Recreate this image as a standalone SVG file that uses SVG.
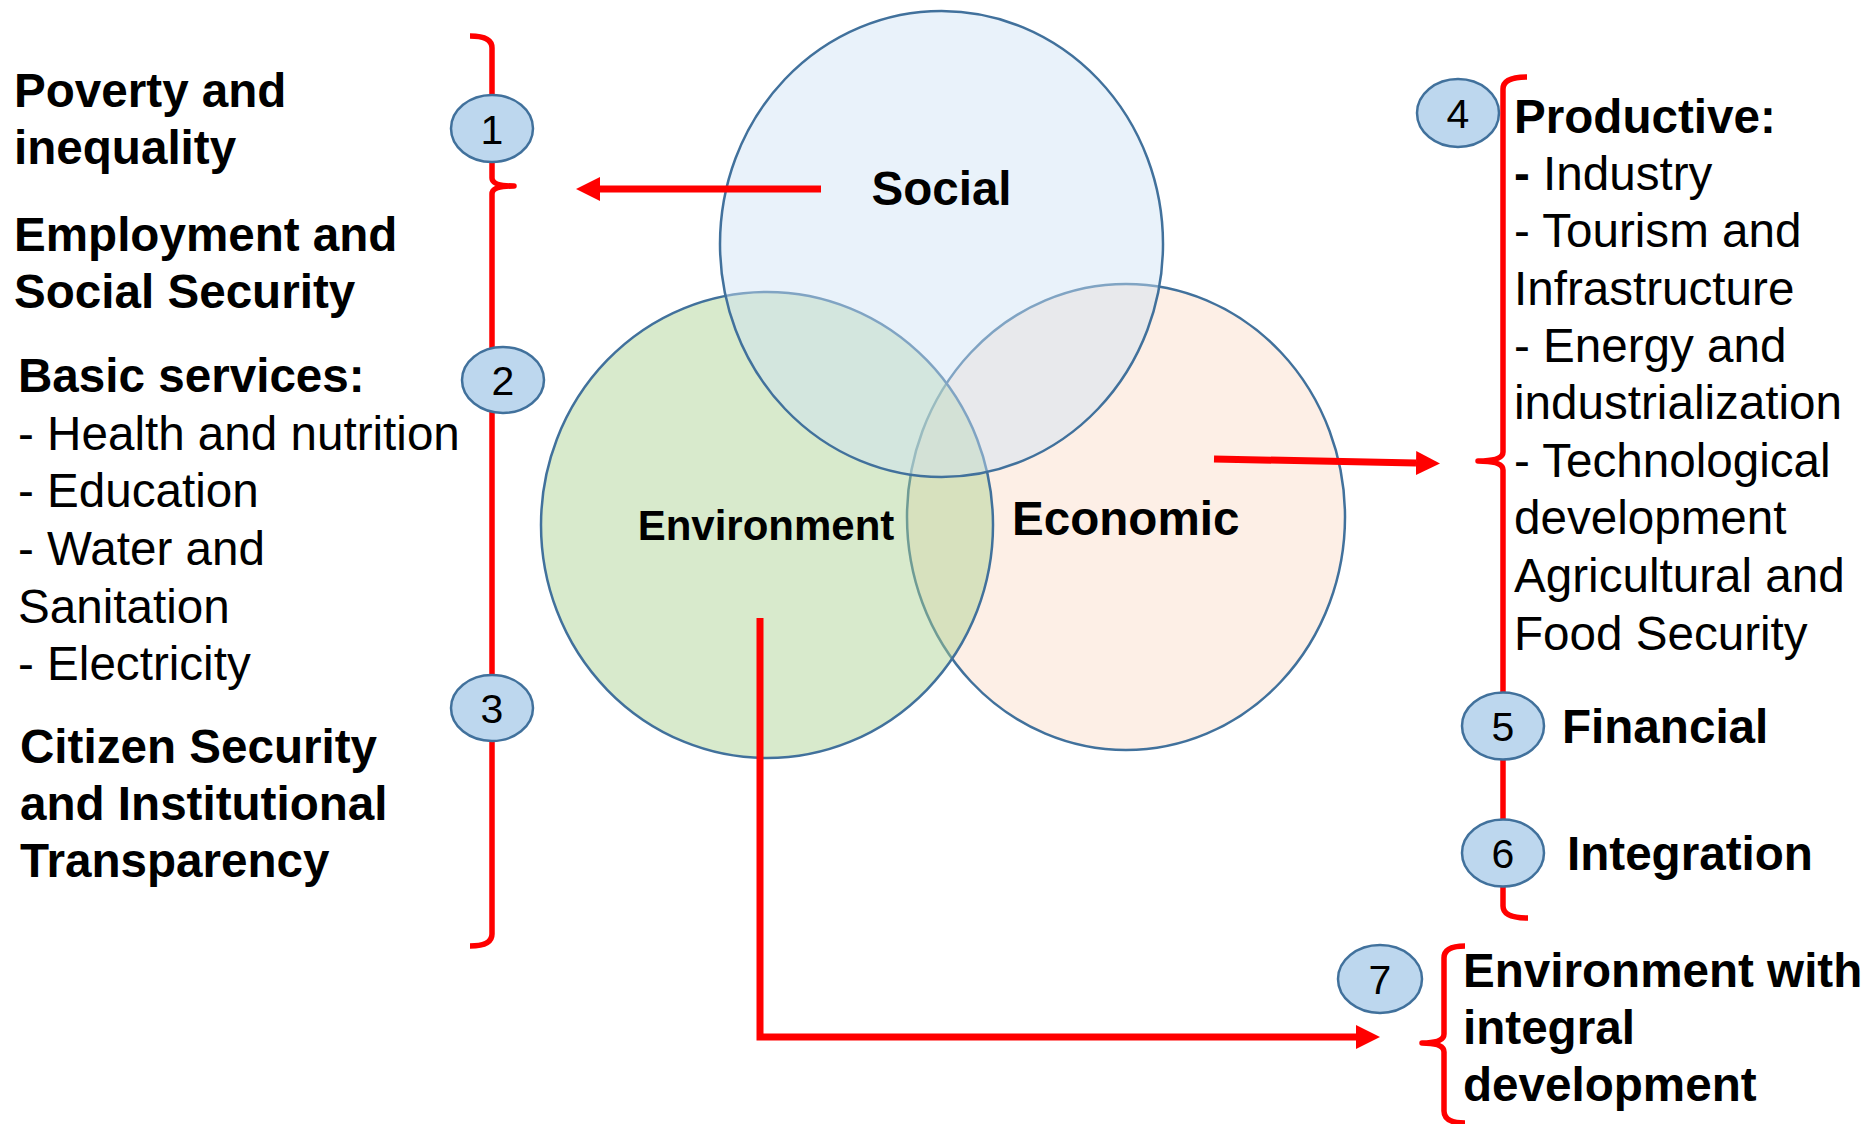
<svg xmlns="http://www.w3.org/2000/svg" width="1874" height="1124" viewBox="0 0 1874 1124">
<style>
.t{font-family:"Liberation Sans",Arial,sans-serif;font-size:47.6px;fill:#000}
.b{font-weight:bold}
.num{font-family:"Liberation Sans",Arial,sans-serif;font-size:41px;fill:#000;text-anchor:middle}
.badge{fill:#BDD7EE;stroke:#41719C;stroke-width:2.5}
.venn{stroke:#41719C;stroke-width:2.5}
.red{fill:none;stroke:#FF0000;stroke-width:7}
.brace{fill:none;stroke:#FF0000;stroke-width:5.5;stroke-linejoin:round}
</style>
<defs>
<marker id="ah" markerUnits="userSpaceOnUse" markerWidth="24" markerHeight="24" refX="0" refY="12" orient="auto" viewBox="0 0 24 24">
<path d="M0,0 L24,12 L0,24 z" fill="#FF0000"/>
</marker>
</defs>
<rect width="1874" height="1124" fill="#FFFFFF"/>
<g id="venn">
<ellipse id="economic-circle" class="venn" cx="1126" cy="517" rx="219" ry="233" fill="#F8CBAD" fill-opacity="0.3"/>
<ellipse id="environment-circle" class="venn" cx="767" cy="525" rx="226" ry="233" fill="#A9D18E" fill-opacity="0.45"/>
<ellipse id="social-circle" class="venn" cx="941.5" cy="244" rx="221.5" ry="233" fill="#CEE2F4" fill-opacity="0.45"/>
<text class="t b" x="941.5" y="205" text-anchor="middle">Social</text>
<text class="t b" x="766" y="540" text-anchor="middle" style="font-size:42px">Environment</text>
<text class="t b" x="1012" y="535">Economic</text>
</g>
<g id="connectors">
<path class="red" d="M821,189 L600,189" marker-end="url(#ah)"/>
<path class="red" d="M1214,459 L1416,463" marker-end="url(#ah)"/>
<path class="red" d="M760,618 L760,1037 L1356,1037" marker-end="url(#ah)"/>
<path class="brace" d="M470,36 Q492,36 492,48 L492,178 Q492,186 514,186 Q492,186 492,194 L492,934 Q492,946 470,946"/>
<path class="brace" d="M1527,77 Q1503,77 1503,89 L1503,452 Q1503,461 1478,461 Q1503,461 1503,470 L1503,906 Q1503,918 1528,918"/>
<path class="brace" d="M1465,946 Q1444,946 1444,958 L1444,1034 Q1444,1043 1422,1043 Q1444,1043 1444,1052 L1444,1111 Q1444,1123 1465,1123"/>
</g>
<g id="node-1">
<ellipse class="badge" cx="492" cy="128.5" rx="41" ry="33.5"/>
<text class="num" x="492" y="144">1</text>
</g>
<g id="node-2">
<ellipse class="badge" cx="503" cy="380" rx="41" ry="33"/>
<text class="num" x="503" y="395">2</text>
</g>
<g id="node-3">
<ellipse class="badge" cx="492" cy="708" rx="41" ry="33"/>
<text class="num" x="492" y="723">3</text>
</g>
<g id="node-4">
<ellipse class="badge" cx="1458" cy="113" rx="41" ry="34"/>
<text class="num" x="1458" y="128">4</text>
</g>
<g id="node-5">
<ellipse class="badge" cx="1503" cy="726" rx="41" ry="33.5"/>
<text class="num" x="1503" y="741">5</text>
</g>
<g id="node-6">
<ellipse class="badge" cx="1503" cy="853" rx="41" ry="33.5"/>
<text class="num" x="1503" y="868">6</text>
</g>
<g id="node-7">
<ellipse class="badge" cx="1380" cy="979" rx="42" ry="34"/>
<text class="num" x="1380" y="994">7</text>
</g>
<g id="left-texts">
<text class="t b" x="14" y="107">Poverty and</text>
<text class="t b" x="14" y="164">inequality</text>
<text class="t b" x="14" y="251">Employment and</text>
<text class="t b" x="14" y="308">Social Security</text>
<text class="t b" x="18" y="392">Basic services:</text>
<text class="t" x="18" y="450">- Health and nutrition</text>
<text class="t" x="18" y="507">- Education</text>
<text class="t" x="18" y="565">- Water and</text>
<text class="t" x="18" y="623">Sanitation</text>
<text class="t" x="18" y="680">- Electricity</text>
<text class="t b" x="20" y="763">Citizen Security</text>
<text class="t b" x="20" y="820">and Institutional</text>
<text class="t b" x="20" y="877">Transparency</text>
</g>
<g id="right-texts">
<text class="t b" x="1514" y="133">Productive:</text>
<text class="t" x="1514" y="190"><tspan class="b">-</tspan> Industry</text>
<text class="t" x="1514" y="247">- Tourism and</text>
<text class="t" x="1514" y="305">Infrastructure</text>
<text class="t" x="1514" y="362">- Energy and</text>
<text class="t" x="1514" y="419">industrialization</text>
<text class="t" x="1514" y="477">- Technological</text>
<text class="t" x="1514" y="534">development</text>
<text class="t" x="1514" y="592">Agricultural and</text>
<text class="t" x="1514" y="650">Food Security</text>
<text class="t b" x="1562" y="743">Financial</text>
<text class="t b" x="1567" y="870">Integration</text>
<text class="t b" x="1463" y="987">Environment with</text>
<text class="t b" x="1463" y="1044">integral</text>
<text class="t b" x="1463" y="1101">development</text>
</g>
</svg>
